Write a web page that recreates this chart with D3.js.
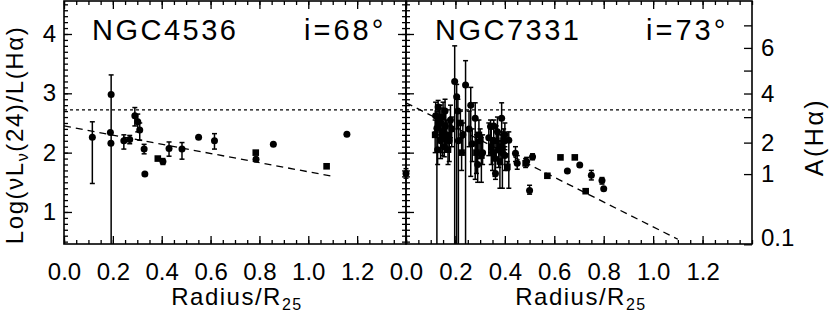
<!DOCTYPE html>
<html>
<head>
<meta charset="utf-8">
<script src="https://cdn.jsdelivr.net/npm/d3@7"></script>
<style>
body { margin: 0; background: #fff; }
text { font-family: "Liberation Sans", Arial, sans-serif; fill: #000; }
</style>
</head>
<body>
<div id="chart"></div>
<script>
// ---- data ----
var xTicks = [0, 0.2, 0.4, 0.6, 0.8, 1.0, 1.2];
var yTicks = [1, 2, 3, 4];
var aTicks = [0.1, 1, 2, 4, 6];
var aMinor = [3, 5, 7];
var refLine = 2.72;   // dotted line

// NGC4536
var n4536X  = [0.116, 0.193, 0.19, 0.192, 0.245, 0.269, 0.29, 0.302, 0.31, 0.328, 0.331, 0.384, 0.405, 0.43, 0.483, 0.551, 0.616, 0.785, 0.786, 0.857, 1.075, 1.158];
var n4536Y  = [2.26, 2.98, 2.34, 2.16, 2.20, 2.22, 2.62, 2.52, 2.38, 2.06, 1.64, 1.90, 1.85, 2.07, 2.06, 2.26, 2.20, 2.00, 1.89, 2.14, 1.77, 2.31];
var n4536Lo = [1.48, 0.40, null, null, 2.06, 2.15, 2.45, 2.35, 2.21, 1.98, null, null, 1.80, 1.94, 1.89, null, 2.06, null, null, null, null, null];
var n4536Hi = [2.52, 3.31, null, null, 2.30, 2.29, 2.76, 2.65, 2.50, 2.14, null, null, 1.90, 2.18, 2.17, null, 2.32, null, null, null, null, null];
var n4536Sq = [0, 0, 0, 0, 0, 0, 0, 0, 0, 0, 0, 1, 0, 0, 0, 0, 0, 1, 0, 0, 1, 0];
var n4536FitX = [0, 1.1];
var n4536FitY = [2.45, 1.60];

// NGC7331
var n7331X  = [0.0, 0.12, 0.125, 0.13, 0.135, 0.14, 0.145, 0.15, 0.155, 0.16, 0.165, 0.175, 0.185,
               0.197, 0.205, 0.212, 0.21, 0.22, 0.241, 0.23, 0.262, 0.255, 0.28, 0.285, 0.29, 0.30, 0.305, 0.31,
               0.342, 0.345, 0.355, 0.36, 0.365, 0.362, 0.375, 0.38, 0.387, 0.39, 0.395, 0.40, 0.416, 0.41,
               0.443, 0.45, 0.484, 0.488, 0.50, 0.512, 0.572, 0.625, 0.653, 0.683, 0.703, 0.727, 0.75, 0.793, 0.80,
               0.118, 0.128, 0.138, 0.148, 0.158, 0.17, 0.18, 0.225, 0.268, 0.295, 0.335, 0.35, 0.37, 0.385, 0.4];
var n7331Y  = [1.65, 2.62, 2.41, 2.77, 2.50, 2.20, 2.35, 2.60, 2.10, 2.45, 2.30, 2.20, 2.40,
               3.20, 2.94, 2.20, 2.70, 2.50, 3.14, 2.30, 2.80, 2.40, 2.58, 2.00, 1.80, 2.20, 1.95, 2.00,
               2.44, 2.10, 2.45, 1.90, 2.20, 1.65, 2.05, 1.85, 2.58, 2.00, 2.20, 1.95, 2.21, 1.76,
               1.99, 1.82, 1.82, 1.85, 1.36, 1.93, 1.61, 1.92, 1.69, 1.92, 1.79, 1.35, 1.62, 1.53, 1.39,
               2.30, 2.05, 2.55, 2.25, 2.70, 2.05, 2.55, 2.00, 2.15, 2.30, 2.25, 2.00, 2.35, 2.10, 2.30];
var n7331Lo = [1.57, 2.35, 0.40, 2.50, 2.20, 1.90, 2.00, 2.30, 1.93, 2.10, 2.05, 1.85, 2.10,
               0.40, 0.40, 0.40, 2.40, 2.20, 0.40, 2.00, 1.60, 2.10, 1.55, 1.65, 1.50, 1.90, 1.50, 1.80,
               2.00, 1.80, 2.20, 1.60, 1.90, 1.55, 1.75, 1.40, 2.20, 1.40, 2.00, 1.70, 1.40, 1.70,
               1.85, 1.72, 1.75, 1.78, 1.30, 1.88, null, null, null, null, null, null, 1.54, 1.47, null,
               2.00, 1.80, 2.25, 1.95, 2.40, 1.80, 2.25, 1.70, 1.85, 2.00, 1.95, 1.70, 2.05, 1.80, 2.05];
var n7331Hi = [1.73, 2.85, 2.70, 2.88, 2.80, 2.50, 2.75, 2.85, 2.40, 2.70, 2.55, 2.50, 2.60,
               3.80, 3.15, 2.50, 2.90, 2.70, 3.55, 2.50, 3.10, 2.70, 2.84, 2.30, 2.20, 2.40, 2.25, 2.30,
               2.55, 2.40, 2.55, 2.20, 2.45, 2.00, 2.30, 2.20, 2.84, 2.30, 2.40, 2.10, 2.35, 1.85,
               2.10, 1.95, 1.90, 1.92, 1.45, 1.98, null, null, null, null, null, null, 1.70, 1.58, null,
               2.55, 2.30, 2.80, 2.50, 2.90, 2.30, 2.80, 2.25, 2.40, 2.55, 2.50, 2.25, 2.60, 2.35, 2.50];
var n7331Sq = [0, 0, 0, 0, 1, 0, 0, 1, 0, 0, 1, 0, 0,
               0, 0, 0, 0, 1, 0, 0, 0, 0, 0, 1, 0, 0, 1, 0,
               0, 1, 0, 0, 1, 0, 0, 1, 0, 0, 1, 0, 0, 1,
               0, 0, 1, 0, 0, 0, 1, 1, 0, 1, 0, 1, 0, 0, 0,
               1, 0, 1, 0, 0, 1, 0, 1, 0, 1, 0, 1, 0, 1, 0];
var n7331FitX = [0, 1.1];
var n7331FitY = [2.84, 0.54];

var panels = [
  { name: "NGC4536", incl: "i=68°", x0: 64,  x1: 406, xs: n4536X, ys: n4536Y, lo: n4536Lo, hi: n4536Hi, sq: n4536Sq, fx: n4536FitX, fy: n4536FitY, nameX: 92,  inclX: 304 },
  { name: "NGC7331", incl: "i=73°", x0: 406, x1: 752, xs: n7331X, ys: n7331Y, lo: n7331Lo, hi: n7331Hi, sq: n7331Sq, fx: n7331FitX, fy: n7331FitY, nameX: 435, inclX: 646 }
];

var svgWidth = 830, svgHeight = 318;
var plotTop = 1, plotBottom = 244;

var svg = d3.select("#chart").append("svg")
  .attr("width", svgWidth)
  .attr("height", svgHeight);

svg.append("rect").attr("width", svgWidth).attr("height", svgHeight).attr("fill", "#fff");

var y = d3.scaleLinear().domain([0.46, 4.556]).range([plotBottom, plotTop]);

// A(Ha) = k log(1 + c * nuL24/LHa), fitted to the tick positions
var kA = 2.64, cA = 0.032;
function yFromA(a) { return Math.log10((Math.pow(10, a / kA) - 1) / cA); }

var yMinor = d3.range(0.5, 4.56, 0.1);
var xMinor = d3.range(0, 1.4001, 0.05);

function styleAxis(g) {
  g.select(".domain").remove();
  g.selectAll("line").attr("stroke", "#000").attr("stroke-width", 1.3);
}

panels.forEach(function (p, pi) {
  var x = d3.scaleLinear().domain([0, 1.4]).range([p.x0, p.x1]);

  var clipId = "clip" + pi;
  svg.append("clipPath").attr("id", clipId)
    .append("rect").attr("x", p.x0 - 6).attr("y", plotTop).attr("width", p.x1 - p.x0 + 6).attr("height", plotBottom - plotTop);

  // x ticks, bottom and top, pointing inward
  [[d3.axisBottom, plotBottom], [d3.axisTop, plotTop]].forEach(function (a) {
    svg.append("g").attr("transform", "translate(0," + a[1] + ")")
      .call(a[0](x).tickValues(xMinor).tickSize(-4).tickFormat(""))
      .call(styleAxis);
    svg.append("g").attr("transform", "translate(0," + a[1] + ")")
      .call(a[0](x).tickValues(xTicks).tickSize(-8).tickFormat(""))
      .call(styleAxis);
  });

  // x tick labels
  svg.append("g").attr("transform", "translate(0," + plotBottom + ")")
    .call(d3.axisBottom(x).tickValues(xTicks).tickSize(0).tickFormat(d3.format(".1f")))
    .call(function (g) {
      g.select(".domain").remove();
      g.selectAll("text").attr("y", 36).attr("dy", null)
        .attr("font-size", 24).attr("font-family", "Liberation Sans, Arial, sans-serif");
    });

  // left-side y ticks
  svg.append("g").attr("transform", "translate(" + p.x0 + ",0)")
    .call(d3.axisLeft(y).tickValues(yMinor).tickSize(-4).tickFormat(""))
    .call(styleAxis);
  svg.append("g").attr("transform", "translate(" + p.x0 + ",0)")
    .call(d3.axisLeft(y).tickValues(yTicks).tickSize(-8).tickFormat(""))
    .call(styleAxis);

  if (pi === 0) {
    // right side of left panel, same ticks pointing in
    svg.append("g").attr("transform", "translate(" + p.x1 + ",0)")
      .call(d3.axisRight(y).tickValues(yMinor).tickSize(-4).tickFormat(""))
      .call(styleAxis);
    svg.append("g").attr("transform", "translate(" + p.x1 + ",0)")
      .call(d3.axisRight(y).tickValues(yTicks).tickSize(-8).tickFormat(""))
      .call(styleAxis);
    svg.append("g").attr("transform", "translate(" + p.x0 + ",0)")
      .call(d3.axisLeft(y).tickValues(yTicks).tickSize(0).tickPadding(8).tickFormat(d3.format("d")))
      .call(function (g) {
        g.select(".domain").remove();
        g.selectAll("text").attr("font-size", 24).attr("font-family", "Liberation Sans, Arial, sans-serif");
      });
  } else {
    // A(Ha) axis on the right
    svg.append("g").attr("transform", "translate(" + p.x1 + ",0)")
      .call(d3.axisRight(y).tickValues(aTicks.concat(aMinor).map(yFromA)).tickSize(-8).tickFormat(""))
      .call(styleAxis);
    svg.append("g").attr("transform", "translate(" + p.x1 + ",0)")
      .call(d3.axisRight(y).tickValues(aTicks.map(yFromA)).tickSize(0).tickPadding(9)
        .tickFormat(function (d, i) { return String(aTicks[i]); }))
      .call(function (g) {
        g.select(".domain").remove();
        g.selectAll("text").attr("font-size", 24).attr("font-family", "Liberation Sans, Arial, sans-serif");
        // keep the lowest label inside the window like the original
        g.selectAll("text").filter(function (d, i) { return i === 0; }).attr("dy", "0.05em");
      });
  }

  var plot = svg.append("g").attr("clip-path", "url(#" + clipId + ")");

  // dotted reference line
  plot.append("line")
    .attr("x1", p.x0).attr("x2", p.x1)
    .attr("y1", y(refLine)).attr("y2", y(refLine))
    .attr("stroke", "#000").attr("stroke-width", 1.3)
    .attr("stroke-dasharray", "3,3");

  // dashed fit
  var fit = p.fx.map(function (v, i) { return [v, p.fy[i]]; });
  plot.append("path")
    .attr("d", d3.line().x(function (d) { return x(d[0]); }).y(function (d) { return y(d[1]); })(fit))
    .attr("fill", "none").attr("stroke", "#000").attr("stroke-width", 1.3)
    .attr("stroke-dasharray", "7,5");

  var pts = p.xs.map(function (v, i) {
    return { x: v, y: p.ys[i], lo: p.lo[i], hi: p.hi[i], sq: p.sq[i] };
  });
  var withErr = pts.filter(function (d) { return d.lo !== null; });

  // error bars
  plot.selectAll(".eb").data(withErr).enter().append("line")
    .attr("x1", function (d) { return x(d.x); }).attr("x2", function (d) { return x(d.x); })
    .attr("y1", function (d) { return y(d.lo); }).attr("y2", function (d) { return y(d.hi); })
    .attr("stroke", "#000").attr("stroke-width", 1.5);
  ["lo", "hi"].forEach(function (k) {
    plot.selectAll(".cap" + k).data(withErr).enter().append("line")
      .attr("x1", function (d) { return x(d.x) - 2.5; }).attr("x2", function (d) { return x(d.x) + 2.5; })
      .attr("y1", function (d) { return y(d[k]); }).attr("y2", function (d) { return y(d[k]); })
      .attr("stroke", "#000").attr("stroke-width", 1.5);
  });

  // markers
  plot.selectAll(".dot").data(pts.filter(function (d) { return !d.sq; })).enter().append("circle")
    .attr("cx", function (d) { return x(d.x); })
    .attr("cy", function (d) { return y(d.y); })
    .attr("r", 3.5).attr("fill", "#000");
  plot.selectAll(".sq").data(pts.filter(function (d) { return d.sq; })).enter().append("rect")
    .attr("x", function (d) { return x(d.x) - 3.3; })
    .attr("y", function (d) { return y(d.y) - 3.3; })
    .attr("width", 6.6).attr("height", 6.6).attr("fill", "#000");

  // frame
  svg.append("rect")
    .attr("x", p.x0).attr("y", plotTop).attr("width", p.x1 - p.x0).attr("height", plotBottom - plotTop)
    .attr("fill", "none").attr("stroke", "#000").attr("stroke-width", 1.6);

  // panel titles
  svg.append("text").attr("x", p.nameX).attr("y", 40).attr("font-size", 29)
    .attr("letter-spacing", 2.5).text(p.name);
  svg.append("text").attr("x", p.inclX).attr("y", 40).attr("font-size", 29)
    .attr("letter-spacing", 3).text(p.incl);

  // x axis title
  var t = svg.append("text").attr("x", (p.x0 + p.x1) / 2 + 2).attr("y", 305)
    .attr("text-anchor", "middle").attr("font-size", 24).attr("letter-spacing", 1.5);
  t.append("tspan").text("Radius/R");
  t.append("tspan").attr("font-size", 16).attr("dy", 5).text("25");
});

// y axis titles
var yl = svg.append("text")
  .attr("transform", "translate(23," + 135 + ") rotate(-90)")
  .attr("text-anchor", "middle").attr("font-size", 24).attr("letter-spacing", 1.6);
yl.append("tspan").text("Log(νL");
yl.append("tspan").attr("font-size", 16).attr("dy", 5).text("ν");
yl.append("tspan").attr("dy", -5).text("(24)/L(Hα)");

svg.append("text")
  .attr("transform", "translate(823,137) rotate(-90)")
  .attr("text-anchor", "middle").attr("font-size", 25).attr("letter-spacing", 2.5)
  .text("A(Hα)");
</script>
</body>
</html>
